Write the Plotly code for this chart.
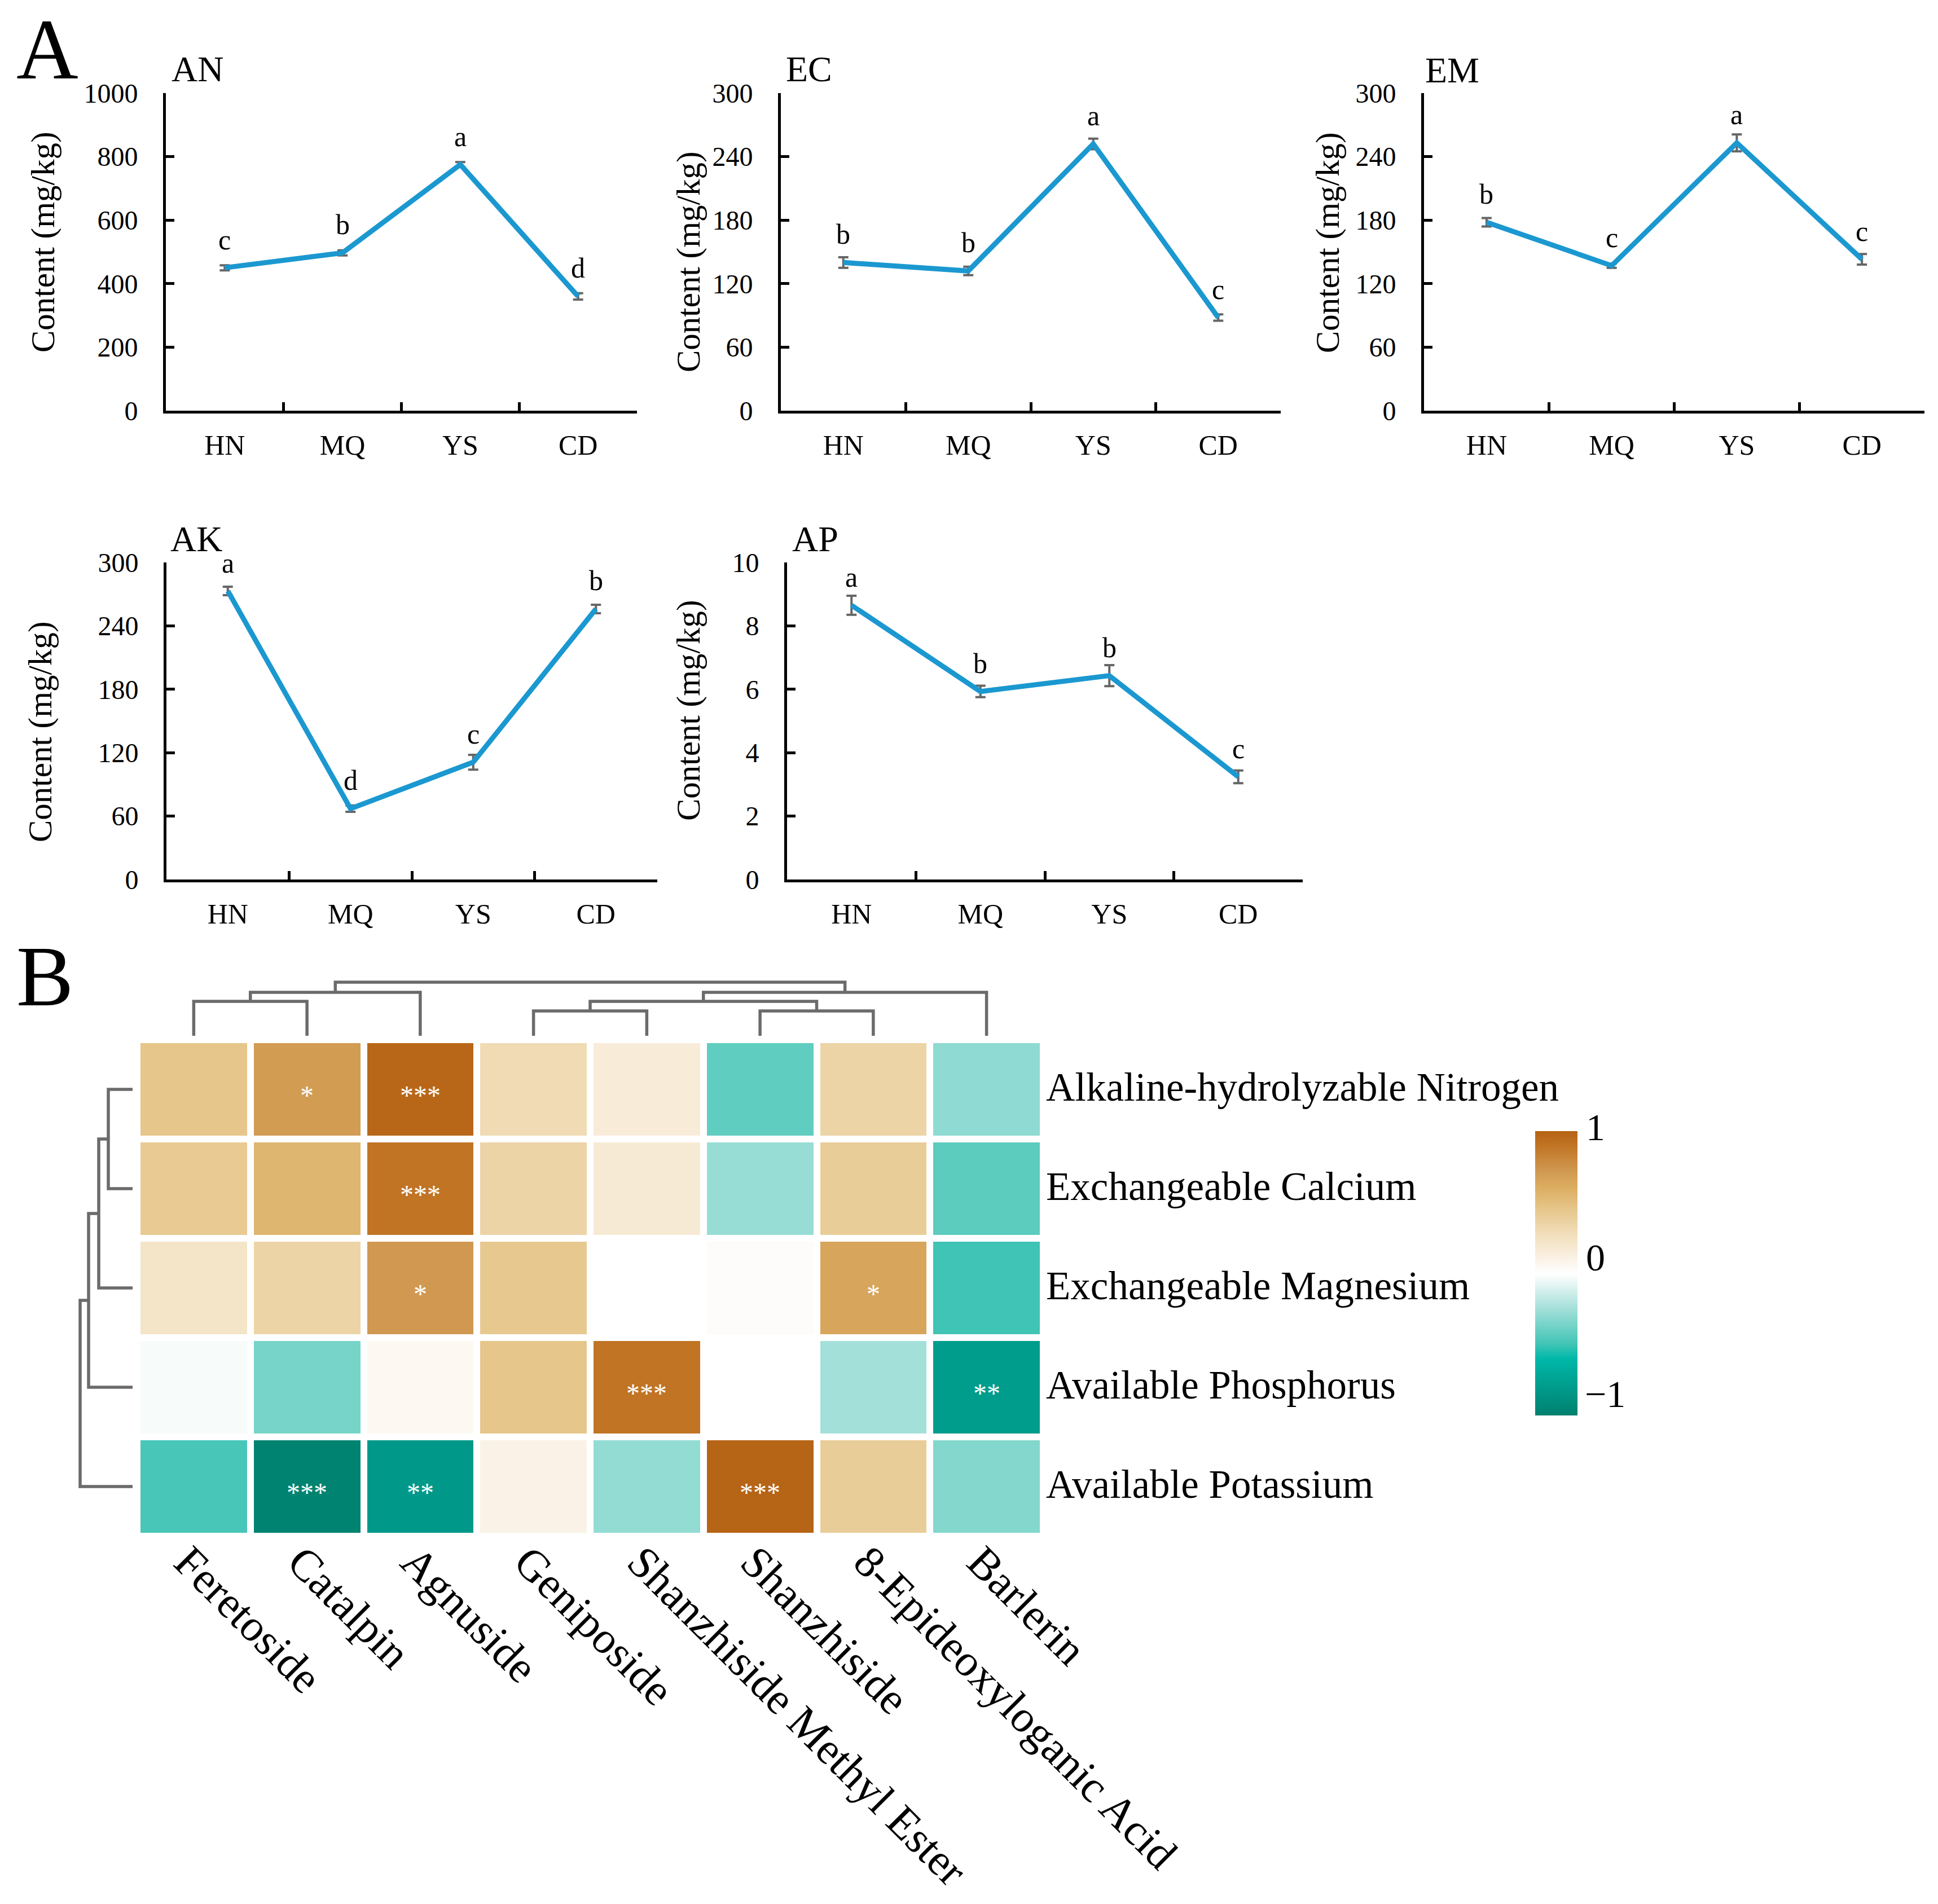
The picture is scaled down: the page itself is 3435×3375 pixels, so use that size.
import plotly.graph_objects as go

W, H = 3435, 3375
FONT = "Liberation Serif"

sites = ["HN", "MQ", "YS", "CD"]

an_vals = [450, 497, 775, 360]
an_errs = [8, 8, 8, 10]
an_sig = ["c", "b", "a", "d"]
ec_vals = [140, 132, 252, 88]
ec_errs = [5, 4, 5, 3]
ec_sig = ["b", "b", "a", "c"]
em_vals = [178, 137, 253, 143]
em_errs = [4, 2, 8, 5]
em_sig = ["b", "c", "a", "c"]
ak_vals = [273, 67, 111, 256]
ak_errs = [4, 3, 7, 4]
ak_sig = ["a", "d", "c", "b"]
ap_vals = [8.65, 5.93, 6.43, 3.24]
ap_errs = [0.3, 0.18, 0.33, 0.2]
ap_sig = ["a", "b", "b", "c"]

compounds = ["Feretoside", "Catalpin", "Agnuside", "Geniposide", "Shanzhiside Methyl Ester",
             "Shanzhiside", "8-Epideoxyloganic Acid", "Barlerin"]
nutrients = ["Alkaline-hydrolyzable Nitrogen", "Exchangeable Calcium", "Exchangeable Magnesium",
             "Available Phosphorus", "Available Potassium"]
corr = [[0.45, 0.70, 0.97, 0.30, 0.15, -0.42, 0.35, -0.30],
        [0.42, 0.55, 0.90, 0.35, 0.17, -0.28, 0.40, -0.43],
        [0.22, 0.35, 0.72, 0.43, 0.00, 0.02, 0.65, -0.50],
        [-0.03, -0.36, 0.05, 0.45, 0.90, 0.00, -0.25, -0.80],
        [-0.48, -0.98, -0.82, 0.10, -0.29, 0.99, 0.40, -0.33]]
stars = [["", "*", "***", "", "", "", "", ""],
         ["", "", "***", "", "", "", "", ""],
         ["", "", "*", "", "", "", "*", ""],
         ["", "", "", "", "***", "", "", "**"],
         ["", "***", "**", "", "", "***", "", ""]]

# dendrograms as linkage lists: (node a, node b, height), new nodes count on from the leaves
col_merges = [(0, 1, 61), (8, 2, 77), (3, 4, 44), (5, 6, 44), (10, 11, 61), (12, 7, 77), (9, 13, 95)]
row_merges = [(0, 1, 43), (5, 2, 60), (6, 3, 78), (7, 4, 93)]

color_stops = [(-1, "#00806e"), (-0.6, "#00b8a9"), (-0.5, "#40c4b5"), (-0.25, "#a3e0d9"), (-0.03, "#f7fbfa"),
               (0, "#ffffff"), (0.15, "#f8ecd9"), (0.3, "#f0dbb4"), (0.45, "#e6c68a"), (0.6, "#dcae62"),
               (0.72, "#d09850"), (0.9, "#c07424"), (1, "#b56213")]


def px_x(x):
    return x / W


def px_y(y):
    return 1 - y / H


def label(text, x, y, size, anchor="left", angle=0):
    fig.add_annotation(text=text, x=px_x(x), y=px_y(y), xref="paper", yref="paper", showarrow=False,
                       xanchor=anchor, yanchor="middle", textangle=angle,
                       font=dict(family=FONT, size=size, color="black"))


def link_path(merges, n):
    # walks the linkage and gives position / height paths for the drawing
    pos = {i: float(i) for i in range(n)}
    hgt = {i: 0 for i in range(n)}
    ps, hs = [], []
    for k, (a, b, h) in enumerate(merges):
        ps += [pos[a], pos[a], pos[b], pos[b], None]
        hs += [hgt[a], h, h, hgt[b], None]
        pos[n + k] = (pos[a] + pos[b]) / 2
        hgt[n + k] = h
    return ps, hs


fig = go.Figure()

panels = [
    ("AN", an_vals, an_errs, an_sig, 1000, 200, 294, 1129, 165, 728, (302, 122), (76, 429)),
    ("EC", ec_vals, ec_errs, ec_sig, 300, 60, 1384, 2270, 165, 728, (1391, 122), (1220, 464)),
    ("EM", em_vals, em_errs, em_sig, 300, 60, 2524, 3411, 165, 728, (2524, 124), (2353, 430)),
    ("AK", ak_vals, ak_errs, ak_sig, 300, 60, 295, 1165, 997, 1559, (300, 955), (71, 1297)),
    ("AP", ap_vals, ap_errs, ap_sig, 10, 2, 1395, 2309, 997, 1559, (1402, 955), (1220, 1259)),
]

layout_axes = {}
for i, (name, vals, errs, sig, ymax, dtick, x0, x1, y0, y1, title_pos, ytitle_pos) in enumerate(panels):
    n = i + 1
    fig.add_trace(go.Scatter(x=sites, y=vals, mode="lines", xaxis=f"x{n}", yaxis=f"y{n}",
                             line=dict(color="#1b98d0", width=9), cliponaxis=False,
                             error_y=dict(type="data", array=errs, color="#666666", thickness=4, width=9)))
    layout_axes[f"xaxis{n}"] = dict(domain=[px_x(x0), px_x(x1)], anchor=f"y{n}", type="category",
                                    categoryorder="array", categoryarray=sites, range=[-0.5, 3.5],
                                    tickson="boundaries", ticks="inside", ticklen=15, tickwidth=5,
                                    tickcolor="black", showline=True, linecolor="black", linewidth=5,
                                    showgrid=False, zeroline=False, ticklabelstandoff=13,
                                    tickfont=dict(family=FONT, size=50, color="black"))
    layout_axes[f"yaxis{n}"] = dict(domain=[px_y(y1), px_y(y0)], anchor=f"x{n}", range=[0, ymax], dtick=dtick,
                                    ticks="inside", ticklen=15, tickwidth=5, tickcolor="black",
                                    showline=True, linecolor="black", linewidth=5, showgrid=False,
                                    zeroline=False, ticklabelstandoff=35,
                                    tickfont=dict(family=FONT, size=48, color="black"))
    for s, v, letter in zip(sites, vals, sig):
        fig.add_annotation(text=letter, x=s, y=v, xref=f"x{n}", yref=f"y{n}", showarrow=False, yshift=50,
                           font=dict(family=FONT, size=50, color="black"))
    label(name, title_pos[0], title_pos[1], 64)
    label("Content (mg/kg)", ytitle_pos[0], ytitle_pos[1], 59, anchor="center", angle=-90)

label("A", 27, 88, 152)
label("B", 27, 1731, 152)

# heatmap and its dendrograms
hm_x0, hm_x1, hm_y0, hm_y1 = 243, 1849, 1843, 2723
vmin, vmax = color_stops[0][0], color_stops[-1][0]
scale = [[(v - vmin) / (vmax - vmin), c] for v, c in color_stops]
fig.add_trace(go.Heatmap(z=corr, x=compounds, y=nutrients, colorscale=scale,
                         zmin=-1, zmax=1, xgap=12, ygap=12, xaxis="x6", yaxis="y6",
                         colorbar=dict(thickness=75, thicknessmode="pixels", len=504, lenmode="pixels",
                                       x=px_x(2721), xanchor="left", xpad=0, y=px_y(2005), yanchor="top", ypad=0,
                                       outlinewidth=0, showticklabels=False, ticks="")))
for row, name in zip(stars, nutrients):
    for mark, comp in zip(row, compounds):
        if mark:
            fig.add_annotation(text=mark, x=comp, y=name, xref="x6", yref="y6", showarrow=False, yshift=-10,
                               font=dict(family=FONT, size=48, color="white"))
layout_axes["xaxis6"] = dict(domain=[px_x(hm_x0), px_x(hm_x1)], anchor="y6", showgrid=False, zeroline=False,
                             tickangle=45, ticks="", tickfont=dict(family=FONT, size=79, color="black"),
                             ticklabelstandoff=-18, ticklabelshift=-11, categoryorder="array", categoryarray=compounds)
layout_axes["yaxis6"] = dict(domain=[px_y(hm_y1), px_y(hm_y0)], anchor="x6", side="right", autorange="reversed",
                             showgrid=False, zeroline=False, ticks="", ticklabelstandoff=4, ticklabelshift=5,
                             tickfont=dict(family=FONT, size=71, color="black"),
                             categoryorder="array", categoryarray=nutrients)

col_pos, col_h = link_path(col_merges, len(compounds))
fig.add_trace(go.Scatter(x=col_pos, y=col_h, mode="lines", xaxis="x7", yaxis="y7",
                         line=dict(color="#6b6b6b", width=5.5)))
layout_axes["xaxis7"] = dict(domain=[px_x(hm_x0), px_x(hm_x1)], anchor="y7", range=[-0.5, 7.5], visible=False)
layout_axes["yaxis7"] = dict(domain=[px_y(1836), px_y(1736)], anchor="x7", range=[0, 100], visible=False)

row_pos, row_h = link_path(row_merges, len(nutrients))
fig.add_trace(go.Scatter(x=row_h, y=row_pos, mode="lines", xaxis="x8", yaxis="y8",
                         line=dict(color="#6b6b6b", width=5.5)))
layout_axes["xaxis8"] = dict(domain=[px_x(135), px_x(235)], anchor="y8", range=[100, 0], visible=False)
layout_axes["yaxis8"] = dict(domain=[px_y(hm_y1), px_y(hm_y0)], anchor="x8", range=[4.5, -0.5], visible=False)

label("1", 2828, 1998, 68, anchor="center")
label("0", 2828, 2229, 68, anchor="center")
label("\u22121", 2845, 2471, 68, anchor="center")

fig.update_layout(width=W, height=H, margin=dict(l=0, r=0, t=0, b=0, autoexpand=False), showlegend=False,
                  paper_bgcolor="white", plot_bgcolor="white", **layout_axes)

fig.write_html("out.html", config={"displayModeBar": False}, post_script="document.body.style.margin='0';")
